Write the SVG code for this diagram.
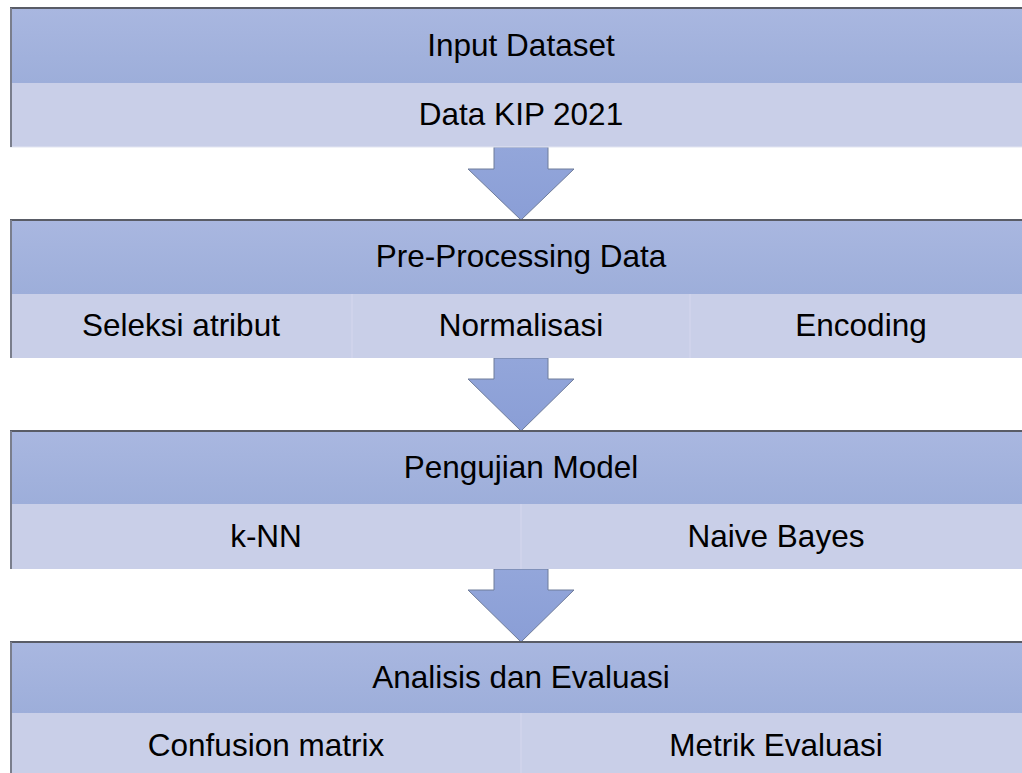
<svg xmlns="http://www.w3.org/2000/svg" width="1022" height="773" viewBox="0 0 1022 773">
<defs>
<linearGradient id="hdr" x1="0" y1="0" x2="0" y2="1">
<stop offset="0" stop-color="#A9B7E0"/>
<stop offset="1" stop-color="#9DAEDA"/>
</linearGradient>
<linearGradient id="arw" x1="0" y1="0" x2="0" y2="1">
<stop offset="0" stop-color="#93A6DA"/>
<stop offset="1" stop-color="#8A9ED6"/>
</linearGradient>
<style>
.hdr{fill:url(#hdr);}
.body{fill:#C9CFE8;}
.div{stroke:#D0D5EC;stroke-width:1.5;}
.top{stroke:#595C66;stroke-width:2;}
.left{stroke:#7A7E8C;stroke-width:2;}
.bot{stroke:#E2E5F2;stroke-width:1;}
.t{font-family:"Liberation Sans",Arial,sans-serif;font-size:31.5px;fill:#000;text-anchor:middle;}
.arrow{fill:url(#arw);stroke:#6F7C9A;stroke-width:1;}
</style>
</defs>
<g id="connectors">
<polygon class="arrow" points="494,147 548,147 548,169 574,169 521,220 468,169 494,169"/>
<polygon class="arrow" points="494,358 548,358 548,379 574,379 521,431 468,379 494,379"/>
<polygon class="arrow" points="494,569 548,569 548,590 574,590 521,642 468,590 494,590"/>
</g>
<g id="node-input">
<rect class="hdr" x="10" y="8" width="1022" height="75"/>
<rect class="body" x="10" y="83" width="1022" height="64"/>
<line class="bot" x1="10" y1="147" x2="1022" y2="147"/>
<line class="top" x1="10" y1="8" x2="1022" y2="8"/>
<line class="left" x1="11" y1="8" x2="11" y2="147"/>
<text class="t" x="521" y="56">Input Dataset</text>
<text class="t" x="521" y="125">Data KIP 2021</text>
</g>
<g id="node-preprocessing">
<rect class="hdr" x="10" y="220" width="1022" height="74"/>
<rect class="body" x="10" y="294" width="1022" height="64"/>
<line class="div" x1="352" y1="294" x2="352" y2="358"/>
<line class="div" x1="690" y1="294" x2="690" y2="358"/>
<line class="top" x1="10" y1="220" x2="1022" y2="220"/>
<line class="left" x1="11" y1="220" x2="11" y2="358"/>
<text class="t" x="521" y="267">Pre-Processing Data</text>
<text class="t" x="181" y="336">Seleksi atribut</text>
<text class="t" x="521" y="336">Normalisasi</text>
<text class="t" x="861" y="336">Encoding</text>
</g>
<g id="node-pengujian">
<rect class="hdr" x="10" y="431" width="1022" height="73"/>
<rect class="body" x="10" y="504" width="1022" height="65"/>
<line class="div" x1="521" y1="504" x2="521" y2="569"/>
<line class="top" x1="10" y1="431" x2="1022" y2="431"/>
<line class="left" x1="11" y1="431" x2="11" y2="569"/>
<text class="t" x="521" y="478">Pengujian Model</text>
<text class="t" x="266" y="547">k-NN</text>
<text class="t" x="776" y="547">Naive Bayes</text>
</g>
<g id="node-analisis">
<rect class="hdr" x="10" y="642" width="1022" height="71"/>
<rect class="body" x="10" y="713" width="1022" height="60"/>
<line class="div" x1="521" y1="713" x2="521" y2="773"/>
<line class="top" x1="10" y1="642" x2="1022" y2="642"/>
<line class="left" x1="11" y1="642" x2="11" y2="773"/>
<text class="t" x="521" y="688">Analisis dan Evaluasi</text>
<text class="t" x="266" y="756">Confusion matrix</text>
<text class="t" x="776" y="756">Metrik Evaluasi</text>
</g>
</svg>
